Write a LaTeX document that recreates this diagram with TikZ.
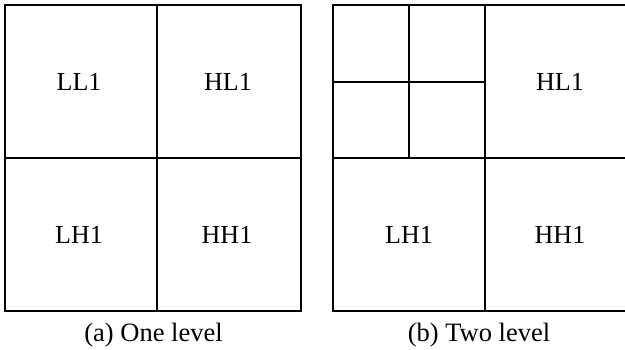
\documentclass[tikz,border=0pt]{standalone}
\usepackage{fontspec}
\setmainfont{Liberation Serif}
\begin{document}
\begin{tikzpicture}[x=1pt,y=-1pt,
  grid/.style={line width=2pt, line cap=rect},
  lbl/.style={font=\fontsize{26}{30}\selectfont, inner sep=0pt, anchor=base},
  captext/.style={font=\fontsize{26.5}{30}\selectfont, inner sep=0pt, anchor=base}]
\useasboundingbox (0,0) rectangle (625,350);
\clip (0,0) rectangle (625,350);
% (a) one level
\draw[grid] (5,5) rectangle (301,311);
\draw[grid] (157,5) -- (157,311);
\draw[grid] (5,158.5) -- (301,158.5);
\node[lbl] (ll1a) at (79,90.7) {LL1};
\node[lbl] (hl1a) at (228,90.7) {HL1};
\node[lbl] (lh1a) at (79,244) {LH1};
\node[lbl] (hh1a) at (227,244) {HH1};
\node[captext] (capa) at (153.5,341.5) {(a) One level};
% (b) two level
\draw[grid] (333,5) rectangle (637,311);
\draw[grid] (485,5) -- (485,311);
\draw[grid] (333,158.5) -- (637,158.5);
\draw[grid] (409,5) -- (409,158.5);
\draw[grid] (333,82) -- (485,82);
\node[lbl] (hl1b) at (560,90.7) {HL1};
\node[lbl] (lh1b) at (409,244) {LH1};
\node[lbl] (hh1b) at (560,244) {HH1};
\node[captext] (capb) at (479,341.5) {(b) Two level};
\end{tikzpicture}
\end{document}
